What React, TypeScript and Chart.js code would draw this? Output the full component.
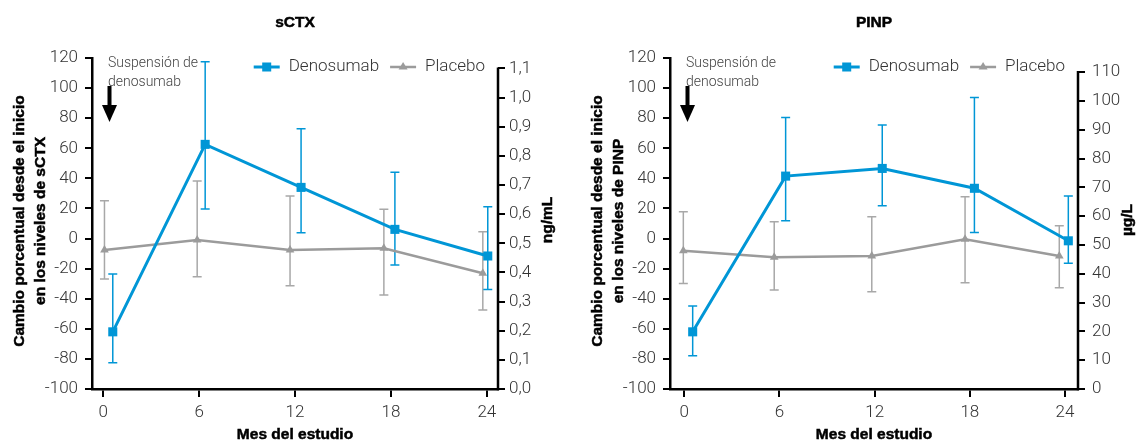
import React, { useEffect, useRef } from 'react';
import { Chart, registerables } from 'chart.js';

Chart.register(...registerables);

// ---------- data ----------
const monthTicks = [0, 6, 12, 18, 24];
const monthLabels = ['0', '6', '12', '18', '24'];
const pctTicks = [-100, -80, -60, -40, -20, 0, 20, 40, 60, 80, 100, 120];
const pctLabels = ['-100', '-80', '-60', '-40', '-20', '0', '20', '40', '60', '80', '100', '120'];
const seriesNames = ['Denosumab', 'Placebo'];
const noteLines = ['Suspensión de', 'denosumab'];
const xTitle = 'Mes del estudio';

// sCTX panel
const sctxTitle = 'sCTX';
const sctxYTitle = ['Cambio porcentual desde el inicio', 'en los niveles de sCTX'];
const sctxRightTitle = 'ng/mL';
const sctxRightTicks = [0, 0.1, 0.2, 0.3, 0.4, 0.5, 0.6, 0.7, 0.8, 0.9, 1.0, 1.1];
const sctxRightLabels = ['0,0', '0,1', '0,2', '0,3', '0,4', '0,5', '0,6', '0,7', '0,8', '0,9', '1,0', '1,1'];
const sctxDenoMonths = [0.6, 6.38, 12.38, 18.25, 24.06];
const sctxDenoValues = [-62, 62.6, 34, 6.1, -11.6];
const sctxDenoLow = [-82.5, 19.6, 3.9, -17.6, -33.8];
const sctxDenoHigh = [-23.6, 117.5, 73, 44, 21.1];
const sctxPlacMonths = [0.08, 5.88, 11.69, 17.56, 23.75];
const sctxPlacValues = [-7.6, -1, -7.6, -6.5, -23.1];
const sctxPlacLow = [-26.9, -25.4, -31.3, -37.5, -47.5];
const sctxPlacHigh = [25.1, 38.2, 28.2, 19.4, 4.5];

// PINP panel
const pinpTitle = 'PINP';
const pinpYTitle = ['Cambio porcentual desde el inicio', 'en los niveles de PINP'];
const pinpRightTitle = 'µg/L';
const pinpRightTicks = [0, 10, 20, 30, 40, 50, 60, 70, 80, 90, 100, 110];
const pinpRightLabels = ['0', '10', '20', '30', '40', '50', '60', '70', '80', '90', '100', '110'];
const pinpDenoMonths = [0.53, 6.39, 12.48, 18.29, 24.21];
const pinpDenoValues = [-62, 41.5, 46.6, 33.4, -1.5];
const pinpDenoLow = [-77.9, 11.8, 21.8, 4.1, -16.5];
const pinpDenoHigh = [-44.9, 80.5, 75.4, 93.8, 28.2];
const pinpPlacMonths = [-0.06, 5.67, 11.82, 17.7, 23.64];
const pinpPlacValues = [-8.1, -12.5, -11.6, -0.5, -11.6];
const pinpPlacLow = [-29.8, -34.2, -35.3, -29.3, -32.7];
const pinpPlacHigh = [17.8, 11.2, 14.5, 27.8, 8.5];

// ---------- styles ----------
const BLUE = '#0096D6';
const GRAY_LINE = '#9B9B9B';
const GRAY_ERR = '#A8A8A8';
const TEXT = '#333333';
const LIGHT_FONT = 'Roboto, "Liberation Sans", sans-serif';
const BOLD_FONT = '"Liberation Sans", Arial, sans-serif';

type Panel = {
  title: string;
  yTitle: string[];
  rightTitle: string;
  rightTicks: number[];
  rightLabels: string[];
  rightMax: number;
  rightPad: number;
  xMin: number;
  xMax: number;
  leftW: number;
  rightW: number;
  width: number;
  denoX: number[]; denoY: number[]; denoLow: number[]; denoHigh: number[];
  placX: number[]; placY: number[]; placLow: number[]; placHigh: number[];
};

function boldText(ctx: CanvasRenderingContext2D, text: string, x: number, y: number) {
  ctx.fillText(text, x, y);
  ctx.strokeText(text, x, y);
}

function makePlugin(p: Panel) {
  return {
    id: 'customDraw',
    beforeDatasetsDraw(chart: any) {
      const ctx = chart.ctx;
      const xs = chart.scales.x;
      const ys = chart.scales.y;
      const drawErr = (X: number[], low: number[], high: number[], color: string) => {
        ctx.save();
        ctx.strokeStyle = color;
        ctx.lineWidth = 1.5;
        X.forEach((x, i) => {
          const px = xs.getPixelForValue(x);
          const y1 = ys.getPixelForValue(low[i]);
          const y2 = ys.getPixelForValue(high[i]);
          ctx.beginPath();
          ctx.moveTo(px, y1); ctx.lineTo(px, y2);
          ctx.moveTo(px - 4.5, y1); ctx.lineTo(px + 4.5, y1);
          ctx.moveTo(px - 4.5, y2); ctx.lineTo(px + 4.5, y2);
          ctx.stroke();
        });
        ctx.restore();
      };
      drawErr(p.placX, p.placLow, p.placHigh, GRAY_ERR);
      drawErr(p.denoX, p.denoLow, p.denoHigh, BLUE);
    },
    afterDraw(chart: any) {
      const ctx = chart.ctx;
      const ca = chart.chartArea;
      const r = chart.scales.y2;
      ctx.save();
      // right axis line
      ctx.strokeStyle = '#000';
      ctx.lineWidth = 2.5;
      ctx.beginPath();
      ctx.moveTo(ca.right, r.getPixelForValue(0) + 1.25);
      ctx.lineTo(ca.right, r.getPixelForValue(p.rightTicks[p.rightTicks.length - 1]) - 1);
      ctx.stroke();

      // bold texts
      ctx.fillStyle = '#000';
      ctx.strokeStyle = '#000';
      ctx.lineWidth = 0.5;
      ctx.font = `bold 15.5px ${BOLD_FONT}`;
      ctx.textAlign = 'center';
      ctx.textBaseline = 'middle';
      boldText(ctx, p.title, (ca.left + ca.right) / 2, 23);
      boldText(ctx, xTitle, (ca.left + ca.right) / 2, 435);

      const cy = 221;
      ctx.save();
      ctx.translate(ca.left - 72, cy);
      ctx.rotate(-Math.PI / 2);
      boldText(ctx, p.yTitle[0], 0, 0);
      ctx.restore();
      ctx.save();
      ctx.translate(ca.left - 51, cy);
      ctx.rotate(-Math.PI / 2);
      boldText(ctx, p.yTitle[1], 0, 0);
      ctx.restore();
      ctx.save();
      ctx.translate(ca.right + 50, 220);
      ctx.rotate(-Math.PI / 2);
      boldText(ctx, p.rightTitle, 0, 0);
      ctx.restore();

      // annotation
      ctx.fillStyle = '#444';
      ctx.font = `300 14px ${LIGHT_FONT}`;
      ctx.textAlign = 'left';
      ctx.fillText(noteLines[0], ca.left + 16, 63);
      ctx.fillText(noteLines[1], ca.left + 16, 82);
      const ax = ca.left + 17.5;
      ctx.fillStyle = '#000';
      ctx.fillRect(ax - 2, 86, 4, 21);
      ctx.beginPath();
      ctx.moveTo(ax - 7.5, 105);
      ctx.lineTo(ax + 7.5, 105);
      ctx.lineTo(ax, 122);
      ctx.closePath();
      ctx.fill();

      // legend (right aligned)
      ctx.font = `300 17px ${LIGHT_FONT}`;
      const w0 = ctx.measureText(seriesNames[0]).width;
      const w1 = ctx.measureText(seriesNames[1]).width;
      const lineLen = 26;
      const gapT = 9;
      const gapItem = 11;
      const endX = ca.right - 13;
      const x1Text = endX - w1;
      const x1Line = x1Text - gapT - lineLen;
      const x0Text = x1Line - gapItem - w0;
      const x0Line = x0Text - gapT - lineLen;
      const ly = 67;
      ctx.strokeStyle = BLUE;
      ctx.lineWidth = 3;
      ctx.beginPath(); ctx.moveTo(x0Line, ly); ctx.lineTo(x0Line + lineLen, ly); ctx.stroke();
      ctx.fillStyle = BLUE;
      ctx.fillRect(x0Line + lineLen / 2 - 4.5, ly - 4.5, 9, 9);
      ctx.strokeStyle = GRAY_LINE;
      ctx.lineWidth = 2.5;
      ctx.beginPath(); ctx.moveTo(x1Line, ly); ctx.lineTo(x1Line + lineLen, ly); ctx.stroke();
      ctx.fillStyle = GRAY_LINE;
      const tx = x1Line + lineLen / 2;
      ctx.beginPath();
      ctx.moveTo(tx, ly - 5); ctx.lineTo(tx + 4.5, ly + 2.5); ctx.lineTo(tx - 4.5, ly + 2.5); ctx.closePath();
      ctx.fill();
      ctx.fillStyle = TEXT;
      ctx.textBaseline = 'middle';
      ctx.fillText(seriesNames[0], x0Text, ly);
      ctx.fillText(seriesNames[1], x1Text, ly);
      ctx.restore();
    },
  };
}

function makeConfig(p: Panel): any {
  const tickFont = { family: LIGHT_FONT, size: 17, weight: 300 as any };
  const grid = { drawOnChartArea: false, drawTicks: true, tickLength: 7, color: '#000', tickColor: '#000', tickWidth: 2, lineWidth: 2 };
  return {
    type: 'line',
    data: {
      datasets: [
        {
          label: seriesNames[0],
          data: p.denoX.map((x, i) => ({ x, y: p.denoY[i] })),
          borderColor: BLUE,
          backgroundColor: BLUE,
          borderWidth: 3,
          pointStyle: 'rect',
          pointRadius: 6.4,
          pointBorderWidth: 0,
          tension: 0,
          yAxisID: 'y',
        },
        {
          label: seriesNames[1],
          data: p.placX.map((x, i) => ({ x, y: p.placY[i] })),
          borderColor: GRAY_LINE,
          backgroundColor: GRAY_LINE,
          borderWidth: 2.5,
          pointStyle: 'triangle',
          pointRadius: 5,
          pointBorderWidth: 0,
          tension: 0,
          yAxisID: 'y',
        },
      ],
    },
    options: {
      responsive: false,
      animation: false,
      layout: { padding: { top: 58, left: 0, right: 0, bottom: 0 } },
      plugins: { legend: { display: false }, tooltip: { enabled: false }, title: { display: false } },
      scales: {
        x: {
          type: 'linear',
          min: p.xMin,
          max: p.xMax,
          afterBuildTicks: (s: any) => { s.ticks = monthTicks.map((v) => ({ value: v })); },
          afterFit: (s: any) => { s.height = 53; },
          ticks: {
            autoSkip: false,
            maxRotation: 0,
            padding: 6,
            color: TEXT,
            font: tickFont,
            callback: (v: number) => monthLabels[monthTicks.indexOf(v)],
          },
          grid: { ...grid, tickLength: 8 },
          border: { display: true, color: '#000', width: 2.5 },
        },
        y: {
          position: 'left',
          min: -100,
          max: 120,
          afterBuildTicks: (s: any) => { s.ticks = pctTicks.map((v) => ({ value: v })); },
          afterFit: (s: any) => { s.width = p.leftW; },
          ticks: {
            autoSkip: false,
            padding: 7,
            color: TEXT,
            font: tickFont,
            callback: (v: number, i: number) => pctLabels[i],
          },
          grid,
          border: { display: true, color: '#000', width: 2.5 },
        },
        y2: {
          position: 'right',
          min: 0,
          max: p.rightMax,
          afterBuildTicks: (s: any) => { s.ticks = p.rightTicks.map((v) => ({ value: v })); },
          afterFit: (s: any) => { s.width = p.rightW; },
          ticks: {
            autoSkip: false,
            padding: p.rightPad,
            color: TEXT,
            font: tickFont,
            callback: (v: number, i: number) => p.rightLabels[i],
          },
          grid,
          border: { display: false },
        },
      },
    },
    plugins: [makePlugin(p)],
  };
}

const sctxPanel: Panel = {
  title: sctxTitle,
  yTitle: sctxYTitle,
  rightTitle: sctxRightTitle,
  rightTicks: sctxRightTicks,
  rightLabels: sctxRightLabels,
  rightMax: 1.136,
  rightPad: 4,
  xMin: -0.7,
  xMax: 24.7,
  leftW: 92,
  rightW: 72,
  width: 570,
  denoX: sctxDenoMonths, denoY: sctxDenoValues, denoLow: sctxDenoLow, denoHigh: sctxDenoHigh,
  placX: sctxPlacMonths, placY: sctxPlacValues, placLow: sctxPlacLow, placHigh: sctxPlacHigh,
};

const pinpPanel: Panel = {
  title: pinpTitle,
  yTitle: pinpYTitle,
  rightTitle: pinpRightTitle,
  rightTicks: pinpRightTicks,
  rightLabels: pinpRightLabels,
  rightMax: 114.9,
  rightPad: 7,
  xMin: -0.9,
  xMax: 24.82,
  leftW: 100,
  rightW: 61,
  width: 569,
  denoX: pinpDenoMonths, denoY: pinpDenoValues, denoLow: pinpDenoLow, denoHigh: pinpDenoHigh,
  placX: pinpPlacMonths, placY: pinpPlacValues, placLow: pinpPlacLow, placHigh: pinpPlacHigh,
};

function PanelChart({ panel, left }: { panel: Panel; left: number }) {
  const ref = useRef<HTMLCanvasElement | null>(null);
  useEffect(() => {
    if (!ref.current) return;
    const chart = new Chart(ref.current, makeConfig(panel));
    return () => chart.destroy();
  }, [panel]);
  return (
    <canvas
      ref={ref}
      width={panel.width}
      height={442}
      style={{ position: 'absolute', left, top: 0, width: panel.width, height: 442, display: 'block' }}
    />
  );
}

export default function App() {
  return (
    <div style={{ position: 'absolute', left: 0, top: 0, width: 1139, height: 442, background: '#fff' }}>
      <PanelChart panel={sctxPanel} left={0} />
      <PanelChart panel={pinpPanel} left={570} />
    </div>
  );
}
